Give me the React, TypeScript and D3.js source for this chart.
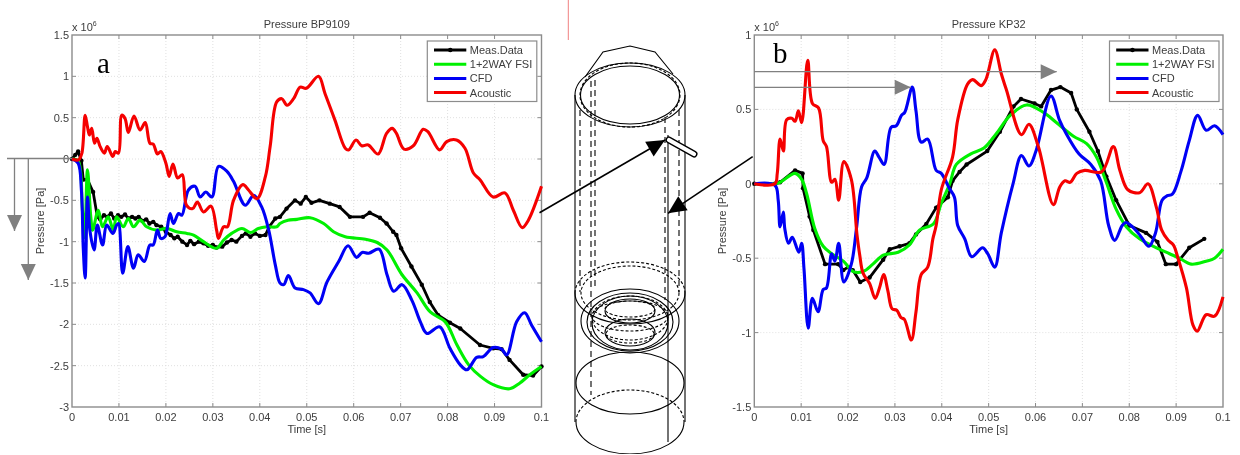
import React from "react";
import * as d3 from "d3";

type P = [number, number];

const xTicks = [0, 0.01, 0.02, 0.03, 0.04, 0.05, 0.06, 0.07, 0.08, 0.09, 0.1];
const yTicksA = [1.5, 1, 0.5, 0, -0.5, -1, -1.5, -2, -2.5, -3];
const yTicksB = [1, 0.5, 0, -0.5, -1, -1.5];
const legendNames = ["Meas.Data", "1+2WAY FSI", "CFD", "Acoustic"];
const colors = ["#000000", "#00f000", "#0000f5", "#f50000"];

const measA: P[] = [[0,0],[.0007,.05],[.0013,.09],[.002,-.02],[.0024,-.25],[.0033,-.25],[.0045,-.4],[.0054,-.7],[.006,-.73],[.0068,-.68],[.0075,-.7],[.0083,-.66],[.009,-.72],[.0098,-.68],[.0105,-.7],[.0113,-.67],[.012,-.72],[.0128,-.7],[.0135,-.72],[.0142,-.7],[.015,-.75],[.0158,-.73],[.0165,-.78],[.0173,-.76],[.018,-.8],[.019,-.82],[.02,-.88],[.021,-.92],[.0218,-.96],[.0225,-.94],[.0235,-1],[.0245,-1.04],[.0252,-.99],[.026,-1.03],[.027,-1],[.028,-1.02],[.029,-1.05],[.03,-1.04],[.0308,-1.07],[.032,-1.06],[.033,-1.01],[.034,-.98],[.035,-1],[.0362,-.93],[.037,-.9],[.038,-.94],[.039,-.9],[.04,-.93],[.0412,-.92],[.042,-.82],[.0433,-.72],[.0443,-.7],[.0457,-.6],[.0475,-.5],[.0487,-.54],[.0498,-.46],[.051,-.53],[.0527,-.5],[.0549,-.54],[.057,-.58],[.0592,-.7],[.062,-.7],[.0634,-.65],[.0656,-.71],[.067,-.78],[.0684,-.88],[.0691,-.92],[.0701,-1.08],[.0723,-1.3],[.0745,-1.52],[.0762,-1.73],[.078,-1.89],[.0805,-1.98],[.0827,-2.05],[.0869,-2.25],[.0897,-2.29],[.0915,-2.3],[.0932,-2.43],[.0961,-2.61],[.0982,-2.62],[.1,-2.51]];
const fsiA: P[] = [[0,0],[.0013,-.02],[.0022,-.6],[.0027,-.95],[.0033,-.13],[.004,-.7],[.0044,-.86],[.0056,-.62],[.0065,-.82],[.0077,-.7],[.0088,-.86],[.0095,-.7],[.0109,-.82],[.012,-.72],[.0131,-.82],[.0145,-.74],[.0159,-.82],[.018,-.86],[.0202,-.84],[.0223,-.88],[.0245,-.9],[.0259,-.92],[.028,-1],[.0308,-1.08],[.0323,-.98],[.034,-.9],[.0362,-.84],[.038,-.89],[.0397,-.84],[.0415,-.82],[.0436,-.82],[.0443,-.78],[.046,-.74],[.0479,-.73],[.0507,-.71],[.0536,-.78],[.0557,-.88],[.0582,-.94],[.0625,-.97],[.065,-1.01],[.0671,-1.1],[.0703,-1.4],[.0735,-1.62],[.0763,-1.85],[.0795,-1.97],[.082,-2.25],[.0845,-2.49],[.087,-2.63],[.0897,-2.73],[.0932,-2.78],[.0954,-2.71],[.0975,-2.61],[.1,-2.51]];
const cfdA: P[] = [[0,0],[.0013,-.05],[.002,-.375],[.0024,-1.08],[.0028,-1.44],[.0033,-.46],[.0038,-.86],[.0047,-1.1],[.0054,-.8],[.0065,-1.04],[.0074,-.8],[.0087,-.9],[.0095,-.8],[.0099,-.78],[.0108,-1.38],[.0119,-1.06],[.0131,-1.32],[.0141,-1.16],[.0154,-1.24],[.0166,-1.04],[.0173,-1.04],[.0182,-.86],[.0189,-.96],[.0198,-.94],[.0202,-.86],[.0209,-.66],[.0216,-.78],[.0227,-.66],[.0234,-.68],[.0248,-.375],[.0262,-.33],[.0273,-.46],[.0285,-.4],[.0298,-.46],[.0312,-.09],[.033,-.15],[.0344,-.27],[.0369,-.56],[.0387,-.44],[.0404,-.58],[.0419,-.86],[.0433,-1.28],[.0443,-1.5],[.0451,-1.52],[.0461,-1.41],[.0475,-1.56],[.0493,-1.58],[.0507,-1.62],[.0525,-1.75],[.0543,-1.49],[.0568,-1.24],[.0588,-1.05],[.0606,-1.19],[.0618,-1.13],[.0632,-1.14],[.0654,-1.09],[.0671,-1.4],[.0685,-1.6],[.0703,-1.52],[.0724,-1.71],[.0742,-1.97],[.0756,-2.11],[.0783,-2.03],[.0805,-2.29],[.0827,-2.49],[.0841,-2.55],[.0862,-2.4],[.0876,-2.39],[.0897,-2.28],[.0915,-2.3],[.0926,-2.37],[.0947,-1.97],[.0964,-1.86],[.0979,-2.01],[.1,-2.21]];
const acousticA: P[] = [[0,0],[.0014,-.01],[.0021,.07],[.0028,.53],[.0033,.39],[.0037,.29],[.0042,.37],[.0048,.19],[.0053,.25],[.006,.15],[.0069,.07],[.0075,.15],[.0087,.03],[.0092,.09],[.0099,.07],[.0106,.53],[.0113,.49],[.012,.32],[.0132,.52],[.0145,.35],[.0156,.44],[.0166,.19],[.0173,.18],[.0182,.06],[.0189,.09],[.02,-.05],[.0207,-.21],[.0215,-.06],[.0225,-.23],[.0235,-.19],[.0244,-.56],[.0257,-.6],[.0267,-.52],[.028,-.64],[.0296,-.57],[.0308,-.86],[.0312,-.96],[.0323,-.82],[.0331,-.82],[.0344,-.5],[.0364,-.31],[.0376,-.375],[.0394,-.48],[.0412,-.21],[.0422,.15],[.0436,.69],[.0447,.73],[.0458,.65],[.0472,.73],[.0486,.87],[.0499,.855],[.0525,1],[.0539,.79],[.056,.47],[.0582,.13],[.0589,.11],[.0605,.23],[.0617,.16],[.0631,.17],[.0652,.06],[.067,.31],[.0682,.37],[.0691,.31],[.0707,.12],[.0727,.16],[.0748,.36],[.0758,.33],[.0783,.11],[.0798,.21],[.0819,.23],[.0837,.13],[.0855,-.17],[.0869,-.25],[.0897,-.46],[.0922,-.41],[.094,-.62],[.0959,-.83],[.0972,-.74],[.1,-.33]];

const measB: P[] = [[0,0],[.0044,0],[.0055,.01],[.0087,.09],[.0103,.07],[.0104,-.03],[.0118,-.22],[.0126,-.31],[.0151,-.54],[.0179,-.54],[.019,-.58],[.02,-.56],[.021,-.58],[.0226,-.66],[.0246,-.63],[.0275,-.51],[.0289,-.44],[.031,-.42],[.0331,-.4],[.0345,-.34],[.0367,-.27],[.0388,-.16],[.0413,-.09],[.0423,.02],[.0438,.08],[.0453,.13],[.0497,.22],[.0524,.35],[.0553,.52],[.0569,.57],[.0598,.54],[.0612,.52],[.0633,.63],[.0653,.65],[.0676,.61],[.0688,.5],[.0715,.35],[.0733,.22],[.0751,.05],[.0772,-.11],[.08,-.28],[.0836,-.33],[.086,-.39],[.0878,-.54],[.09,-.54],[.0928,-.43],[.096,-.37]];
const fsiB: P[] = [[0,0],[.0044,0],[.0055,.01],[.0087,.07],[.0101,.03],[.0112,-.07],[.0129,-.3],[.0147,-.42],[.0165,-.47],[.019,-.52],[.0211,-.59],[.0232,-.59],[.0253,-.54],[.0275,-.48],[.0307,-.46],[.0331,-.41],[.0353,-.31],[.0382,-.27],[.0399,-.13],[.0417,0],[.0431,.13],[.0461,.2],[.049,.24],[.0517,.34],[.0546,.46],[.0581,.53],[.0617,.48],[.0645,.41],[.0681,.32],[.0709,.27],[.073,.18],[.0751,.01],[.0772,-.17],[.0794,-.29],[.0822,-.37],[.0858,-.43],[.0886,-.47],[.0907,-.5],[.0932,-.54],[.0964,-.52],[.0982,-.5],[.1,-.44]];
const cfdB: P[] = [[0,0],[.0044,-.01],[.0051,-.11],[.0055,-.29],[.0062,-.19],[.0065,-.3],[.0073,-.4],[.0081,-.36],[.0095,-.46],[.0101,-.4],[.0106,-.57],[.0115,-.97],[.0124,-.77],[.0136,-.86],[.0147,-.71],[.0154,-.7],[.0165,-.47],[.0172,-.52],[.018,-.4],[.0191,-.66],[.0207,-.54],[.0218,-.3],[.0229,-.02],[.024,.04],[.0257,.22],[.0266,.18],[.0277,.13],[.0292,.38],[.0303,.39],[.0314,.46],[.0321,.48],[.0337,.65],[.0345,.49],[.0356,.28],[.037,.3],[.0388,.09],[.0399,.07],[.0416,-.03],[.0427,-.09],[.0434,-.28],[.0449,-.37],[.0464,-.49],[.0487,-.43],[.0498,-.47],[.0513,-.56],[.0527,-.33],[.0552,0],[.057,.19],[.0586,.12],[.0601,.22],[.0633,.59],[.0651,.43],[.0665,.34],[.0693,.2],[.0718,.13],[.0739,.02],[.0756,-.28],[.0769,-.38],[.0785,-.28],[.0793,-.26],[.0807,-.29],[.0824,-.35],[.0842,-.42],[.0856,-.33],[.087,-.11],[.0881,-.08],[.0892,-.07],[.091,.08],[.0928,.29],[.0946,.46],[.0964,.36],[.0982,.39],[.1,.33]];
const acousticB: P[] = [[0,0],[.0044,0],[.0049,.07],[.0055,.3],[.0062,.22],[.0069,.43],[.008,.44],[.0087,.42],[.0094,.49],[.0101,.41],[.0114,.83],[.0124,.54],[.0137,.51],[.0147,.29],[.0154,.25],[.0165,.01],[.0172,.03],[.018,-.11],[.0191,.15],[.0207,.03],[.0219,-.34],[.0225,-.48],[.0232,-.6],[.0246,-.67],[.0258,-.77],[.0267,-.7],[.0276,-.61],[.0285,-.72],[.0294,-.84],[.0304,-.85],[.0313,-.9],[.032,-.91],[.0335,-1.05],[.0345,-.86],[.0356,-.61],[.037,-.56],[.0381,-.37],[.0388,-.28],[.0399,-.04],[.0423,.18],[.0434,.43],[.0455,.67],[.0466,.7],[.0484,.66],[.0494,.7],[.0513,.9],[.0527,.74],[.0538,.63],[.057,.33],[.0586,.4],[.0606,.25],[.0638,-.14],[.0652,-.02],[.0663,.02],[.0674,.01],[.0688,.07],[.0705,.09],[.0741,.08],[.0766,.25],[.078,.09],[.0797,-.04],[.0822,-.06],[.084,0],[.0858,-.16],[.0869,-.31],[.0883,-.38],[.0894,-.41],[.0904,-.5],[.0922,-.7],[.0936,-.95],[.0945,-.99],[.0964,-.88],[.0982,-.89],[.1,-.76]];

const seriesA = [measA, fsiA, cfdA, acousticA];
const seriesB = [measB, fsiB, cfdB, acousticB];

const ink = "#3c3c3c";
const spine = "#8c8c8c";
const font = "'Liberation Sans', Arial, sans-serif";
const serif = "'Liberation Serif', 'Times New Roman', serif";

function Panel({ left, right, yTicks, title, series, lx, labelX }: { left: number; right: number; yTicks: number[]; title: string; series: P[][]; lx: number; labelX: number }) {
  const top = 35, bottom = 407;
  const x = d3.scaleLinear().domain([0, 0.1]).range([left, right]);
  const y = d3.scaleLinear().domain([yTicks[yTicks.length - 1], yTicks[0]]).range([bottom, top]);
  const mid = (left + right) / 2;
  const legW = 109.5;
  return (
    <g fontFamily={font} fill={ink} fontSize={11}>
      {xTicks.slice(1, -1).map((t) => <line key={t} x1={x(t)} x2={x(t)} y1={top} y2={bottom} stroke="#dcdcdc" strokeWidth={0.9} strokeDasharray="1 2" />)}
      {yTicks.slice(1, -1).map((t) => <line key={t} x1={left} x2={right} y1={y(t)} y2={y(t)} stroke="#dcdcdc" strokeWidth={0.9} strokeDasharray="1 2" />)}
      {xTicks.slice(1, -1).map((t) => <g key={t} stroke={spine}><line x1={x(t)} x2={x(t)} y1={top} y2={top + 4} /><line x1={x(t)} x2={x(t)} y1={bottom} y2={bottom - 4} /></g>)}
      {yTicks.slice(1, -1).map((t) => <g key={t} stroke={spine}><line x1={left} x2={left + 4} y1={y(t)} y2={y(t)} /><line x1={right} x2={right - 4} y1={y(t)} y2={y(t)} /></g>)}
      <rect x={left} y={top} width={right - left} height={bottom - top} fill="none" stroke={spine} strokeWidth={1.4} />
      {xTicks.map((t) => <text key={t} x={x(t)} y={421} textAnchor="middle">{t}</text>)}
      {yTicks.map((t) => <text key={t} x={left - 3} y={y(t) + 4} textAnchor="end">{t}</text>)}
      <text x={left} y={31}>x 10<tspan fontSize={7} dy={-5}>6</tspan></text>
      <text x={mid} y={28} textAnchor="middle">{title}</text>
      <text x={mid} y={433} textAnchor="middle">Time [s]</text>
      <text transform={`translate(${labelX},221) rotate(-90)`} textAnchor="middle">Pressure [Pa]</text>
      {series.map((pts, i) => {
        const path = d3.line<P>().x((d) => x(d[0])).y((d) => y(d[1])).curve(i === 0 ? d3.curveLinear : d3.curveCatmullRom.alpha(0.5))(pts) || "";
        return (
          <g key={i}>
            <path d={path} fill="none" stroke={colors[i]} strokeWidth={i === 0 ? 2.8 : 3.1} strokeLinejoin="round" />
            {i === 0 && pts.map((p, k) => <circle key={k} cx={x(p[0])} cy={y(p[1])} r={2.2} fill="#000" />)}
          </g>
        );
      })}
      <rect x={lx} y={41} width={legW} height={60.5} fill="#fff" stroke={spine} strokeWidth={1.2} />
      {legendNames.map((n, i) => {
        const ly = 50 + i * 14.2;
        return (
          <g key={n}>
            <line x1={lx + 6.7} x2={lx + 39} y1={ly} y2={ly} stroke={colors[i]} strokeWidth={3} />
            {i === 0 && <circle cx={lx + 23} cy={ly} r={2.3} fill="#000" />}
            <text x={lx + 42.5} y={ly + 4}>{n}</text>
          </g>
        );
      })}
    </g>
  );
}

// Hand-drawn overlays: [x1, y1, x2, y2]
const grayArrows = [[14.5, 158, 14.5, 231], [28.3, 158, 28.3, 280], [754, 71.7, 1056.7, 71.7], [754, 87.3, 910.7, 87.3]];
const blackArrows = [[539.5, 212.7, 665, 140], [752.7, 156.7, 668, 213.3]];
const domePts = [[585, 77], [603, 52], [630, 46], [655, 52], [673, 74]];
// cx, cy, rx, ry, stroke style: 0 solid, 1 dashed, 2 upper dashed + lower solid
const ellipses = [
  [630, 95, 55, 32, 0], [630, 95, 49.5, 29, 0], [630, 95, 50, 32, 1],
  [630, 293, 55, 31, 2], [630, 293, 49, 27, 1],
  [630, 321, 49, 32, 0], [630, 323, 38, 27, 0], [630, 322, 43, 29, 0], [630, 318, 38, 22, 1],
  [630, 311, 25, 12, 0], [630, 332.5, 25, 13.5, 0], [630, 309, 25, 8, 1], [630, 334, 24, 9, 1], [630, 316, 38, 15, 1],
  [630, 383, 54, 31, 0], [630, 422, 54, 32, 2],
];
const solidV = [[575, 95, 422], [685, 95, 422], [668, 135, 442]];
const dashedV = [[580, 110, 292], [591, 81, 395], [595, 80, 290], [665, 117, 300], [679, 110, 292]];

function arrowHead(x1: number, y1: number, x2: number, y2: number, len: number, hw: number) {
  const a = Math.atan2(y2 - y1, x2 - x1);
  const bx = x2 - len * Math.cos(a), by = y2 - len * Math.sin(a);
  const nx = -Math.sin(a) * hw, ny = Math.cos(a) * hw;
  return `${x2},${y2} ${bx + nx},${by + ny} ${bx - nx},${by - ny}`;
}

function arc(cx: number, cy: number, rx: number, ry: number, upper: boolean) {
  return `M${cx - rx},${cy} A${rx},${ry} 0 0 ${upper ? 1 : 0} ${cx + rx},${cy}`;
}

function Schematic() {
  return (
    <g fill="none" stroke="#000" strokeWidth={1.1}>
      <line x1={568.3} x2={568.3} y1={0} y2={40} stroke="#f08080" strokeWidth={1} />
      <polyline points={domePts.map((p) => p.join(",")).join(" ")} />
      {ellipses.map(([cx, cy, rx, ry, s], i) => s === 2 ? (
        <g key={i}><path d={arc(cx, cy, rx, ry, true)} strokeDasharray="3 2" /><path d={arc(cx, cy, rx, ry, false)} /></g>
      ) : (
        <ellipse key={i} cx={cx} cy={cy} rx={rx} ry={ry} strokeDasharray={s === 1 ? "3 2" : undefined} />
      ))}
      {solidV.map(([x, a, b], i) => <line key={i} x1={x} x2={x} y1={a} y2={b} />)}
      {dashedV.map(([x, a, b], i) => <line key={i} x1={x} x2={x} y1={a} y2={b} strokeDasharray="6 4" />)}
      <line x1={669} y1={140} x2={694} y2={154} stroke="#000" strokeWidth={7} strokeLinecap="round" />
      <line x1={669} y1={140} x2={694} y2={154} stroke="#fff" strokeWidth={4.2} strokeLinecap="round" />
      {blackArrows.map(([a, b, c, d], i) => (
        <g key={i}>
          <line x1={a} y1={b} x2={c} y2={d} stroke="#000" strokeWidth={1.6} />
          <polygon points={arrowHead(a, b, c, d, 18, 8.5)} fill="#000" stroke="none" />
        </g>
      ))}
      {grayArrows.map(([a, b, c, d], i) => (
        <g key={i}>
          <line x1={a} y1={b} x2={c} y2={d} stroke="#808080" strokeWidth={1.3} />
          <polygon points={arrowHead(a, b, c, d, 16, 7.5)} fill="#808080" stroke="none" />
        </g>
      ))}
      <line x1={7} x2={72} y1={158.5} y2={158.5} stroke="#808080" strokeWidth={1.3} />
    </g>
  );
}

export default function App() {
  return (
    <svg width={1240} height={455} style={{ position: "absolute", left: 0, top: 0, display: "block", background: "#fff" }}>
      <defs><filter id="soft" x="0" y="0" width="100%" height="100%"><feGaussianBlur stdDeviation="0.45" /></filter></defs>
      <g filter="url(#soft)">
        <Panel left={72} right={541.5} yTicks={yTicksA} title="Pressure BP9109" series={seriesA} lx={427.3} labelX={44} />
        <Panel left={754.3} right={1223} yTicks={yTicksB} title="Pressure KP32" series={seriesB} lx={1109.5} labelX={726} />
        <Schematic />
        <text x={97} y={73} fontFamily={serif} fontSize={29} fill="#000">a</text>
        <text x={773} y={63} fontFamily={serif} fontSize={29} fill="#000">b</text>
      </g>
    </svg>
  );
}
